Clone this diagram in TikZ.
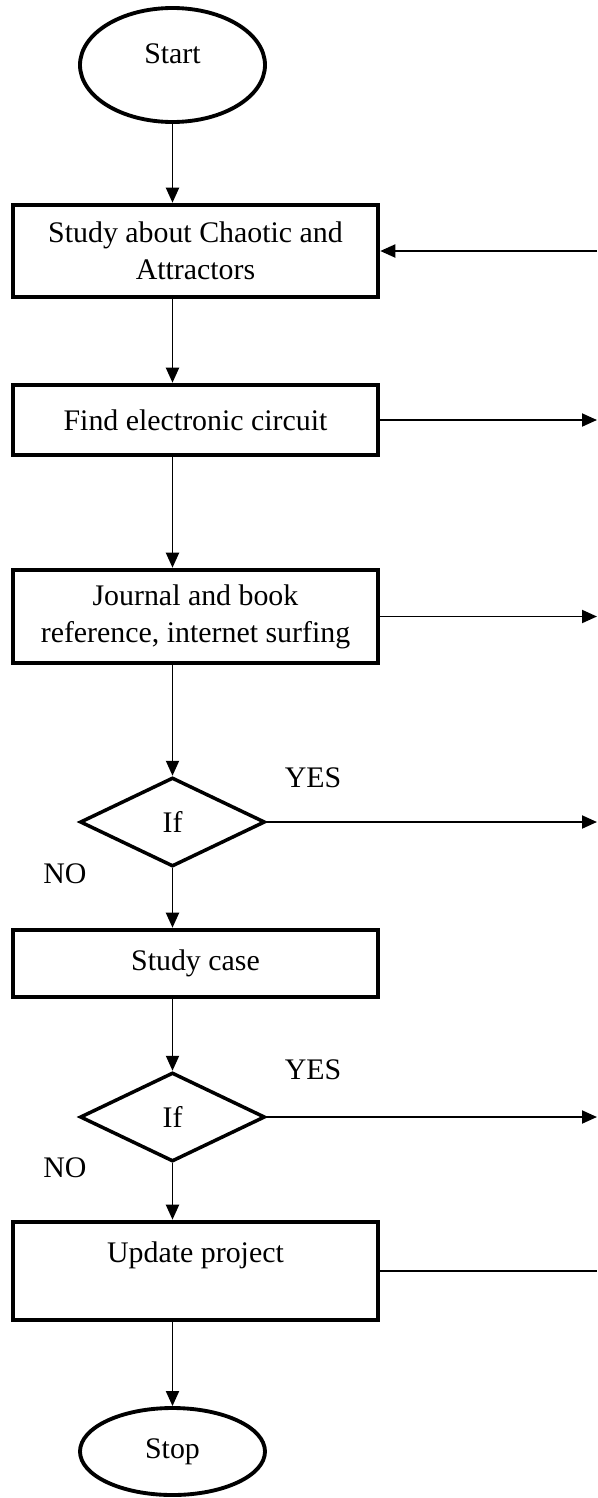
\documentclass[tikz,border=0pt]{standalone}
\usepackage{fontspec}
\setmainfont{Liberation Serif}
\usetikzlibrary{shapes.geometric,arrows.meta}

\begin{document}
\begin{tikzpicture}[
	box/.style={draw, line width=2.6pt, minimum width=7.3cm, align=center, inner sep=0pt},
	term/.style={draw, ellipse, line width=2.2pt, minimum width=3.7cm, inner sep=0pt},
	cond/.style={draw, diamond, aspect=2, line width=2pt, minimum width=3.7cm, minimum height=1.78cm, inner sep=0pt},
	line/.style={line width=1.1pt, -{Triangle[length=0.3cm, width=0.26cm]}},
	font=\fontsize{17}{21}\selectfont]
	\useasboundingbox (0,0) rectangle (11.94,-29.96);
	\node[term, minimum height=2.28cm, text depth=0.45cm] (start) at (3.45,-1.3) {Start};
	\node[box, minimum height=1.84cm] (b1) at (3.91,-5.02) {Study about Chaotic and\\Attractors};
	\node[box, minimum height=1.4cm] (b2) at (3.91,-8.4) {Find electronic circuit};
	\node[box, minimum height=1.86cm] (b3) at (3.91,-12.33) {Journal and book\\reference, internet surfing};
	\node[cond] (d1) at (3.45,-16.44) {If};
	\node[box, minimum height=1.34cm] (b4) at (3.91,-19.27) {Study case};
	\node[cond] (d2) at (3.45,-22.34) {If};
	\node[box, minimum height=1.96cm] (b5) at (3.91,-25.42) {Update project\\\mbox{}};
	\node[term, minimum height=1.74cm] (stop) at (3.45,-29.03) {Stop};
	\node (yes1) at (6.26,-15.56) {YES};
	\node (no1) at (1.3,-17.48) {NO};
	\node (yes2) at (6.26,-21.4) {YES};
	\node (no2) at (1.3,-23.36) {NO};
	% right hand side
	\coordinate (r1) at (11.94,-5.02);
	\coordinate (r2) at (11.94,-8.4);
	\coordinate (r3) at (11.94,-12.33);
	\coordinate (r4) at (11.94,-16.44);
	\coordinate (r5) at (11.94,-22.34);
	\coordinate (r6) at (11.94,-25.42);
	\draw[line] (start.south) -- (start.south |- b1.north);
	\draw[line] (b1.south -| d1) -- (d1 |- b2.north);
	\draw[line] (b2.south -| d1) -- (d1 |- b3.north);
	\draw[line] (b3.south -| d1) -- (d1.north);
	\draw[line] (d1.south) -- (d1 |- b4.north);
	\draw[line] (b4.south -| d2) -- (d2.north);
	\draw[line] (d2.south) -- (d2 |- b5.north);
	\draw[line] (b5.south -| stop) -- (stop.north);
	\draw[line] (r1) -- (b1.east);
	\draw[line] (b2.east) -- (r2);
	\draw[line] (b3.east) -- (r3);
	\draw[line] (d1.east) -- (r4);
	\draw[line] (d2.east) -- (r5);
	\draw[line width=1.1pt] (b5.east) -- (r6);
\end{tikzpicture}
\end{document}
